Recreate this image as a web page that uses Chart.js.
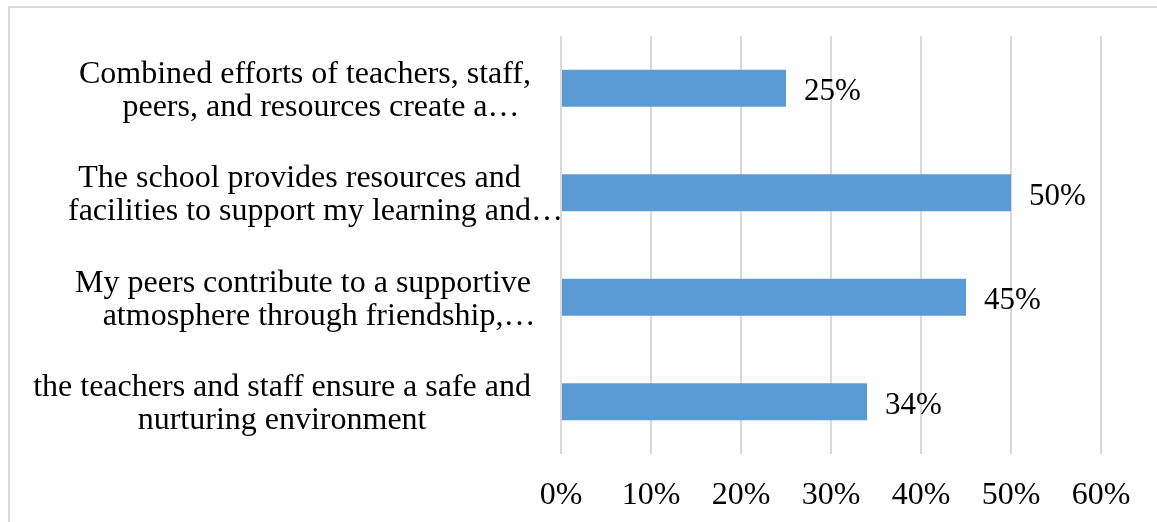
<!DOCTYPE html>
<html>
<head>
<meta charset="utf-8">
<script src="https://cdn.jsdelivr.net/npm/chart.js@4/dist/chart.umd.min.js"></script>
<style>
  html, body { margin: 0; padding: 0; background: #ffffff; overflow: hidden; }
  #wrap { position: relative; width: 1157px; height: 522px; overflow: hidden; }
  #frame { position: absolute; left: 8px; top: 6px; width: 1200px; height: 600px;
           border: 2px solid #d9d9d9; box-sizing: border-box; }
  #c { position: absolute; left: 0; top: 0; }
</style>
</head>
<body>
<div id="wrap">
  <div id="frame"></div>
  <canvas id="c" width="1157" height="522"></canvas>
</div>
<script>
// Survey statements (two display lines each) and share of agreement
const categories = [
  ["Combined efforts of teachers, staff,", "peers, and resources create a…"],
  ["The school provides resources and", "facilities to support my learning and…"],
  ["My peers contribute to a supportive", "atmosphere through friendship,…"],
  ["the teachers and staff ensure a safe and", "nurturing environment"]
];
const values = [25, 50, 45, 34];
const tickLabels = ["0%", "10%", "20%", "30%", "40%", "50%", "60%"];

const SERIF = "'Liberation Serif', 'Times New Roman', serif";
const BAR_COLOR = "#5B9BD5";
const GRID_COLOR = "#d9d9d9";

// Value labels printed just past the end of each bar
const valueLabels = {
  id: 'valueLabels',
  afterDatasetsDraw(chart) {
    const ctx = chart.ctx;
    const meta = chart.getDatasetMeta(0);
    ctx.save();
    ctx.font = "31px " + SERIF;
    ctx.fillStyle = "#000000";
    ctx.textAlign = "left";
    ctx.textBaseline = "alphabetic";
    meta.data.forEach((bar, i) => {
      ctx.fillText(values[i] + "%", bar.x + 18, bar.y + 12);
    });
    ctx.restore();
  }
};

// Category captions: each block is right-aligned against the plot,
// lines centred inside the block (a trailing ellipsis hangs outside)
const categoryCaptions = {
  id: 'categoryCaptions',
  afterDraw(chart) {
    const ctx = chart.ctx;
    const yScale = chart.scales.y;
    const right = 531;
    const lh = 33;
    ctx.save();
    ctx.font = "32px " + SERIF;
    ctx.fillStyle = "#000000";
    ctx.textAlign = "left";
    ctx.textBaseline = "alphabetic";
    categories.forEach((lines, i) => {
      const cy = yScale.getPixelForValue(i);
      const core = lines.map(s => s.replace(/…$/, ""));
      const widths = core.map(s => ctx.measureText(s).width);
      const widest = Math.max(...widths);
      const cx = right - widest / 2;
      const firstBase = cy - (lines.length - 1) * lh / 2 + 11;
      lines.forEach((line, j) => {
        ctx.fillText(line, cx - widths[j] / 2, firstBase + j * lh);
      });
    });
    ctx.restore();
  }
};

new Chart(document.getElementById('c'), {
  type: 'bar',
  data: {
    labels: categories.map(l => l.join(" ")),
    datasets: [{
      data: values,
      backgroundColor: BAR_COLOR,
      borderWidth: 0,
      barPercentage: 0.354,
      categoryPercentage: 1.0
    }]
  },
  options: {
    indexAxis: 'y',
    responsive: false,
    devicePixelRatio: 1,
    animation: false,
    layout: { padding: { top: 36, right: 56, bottom: 0, left: 0 } },
    plugins: {
      legend: { display: false },
      tooltip: { enabled: false },
      title: { display: false }
    },
    scales: {
      x: {
        min: 0,
        max: 60,
        ticks: {
          stepSize: 10,
          padding: 22,
          color: "#000000",
          font: { family: SERIF, size: 32 },
          maxRotation: 0,
          callback: (v, i) => tickLabels[i]
        },
        grid: { color: GRID_COLOR, lineWidth: 2, drawTicks: false },
        border: { display: false },
        afterFit(scale) { scale.height = 68; }
      },
      y: {
        ticks: { display: false },
        grid: { display: false, drawTicks: false },
        border: { display: false },
        afterFit(scale) { scale.width = 561; }
      }
    }
  },
  plugins: [valueLabels, categoryCaptions]
});
</script>
</body>
</html>
